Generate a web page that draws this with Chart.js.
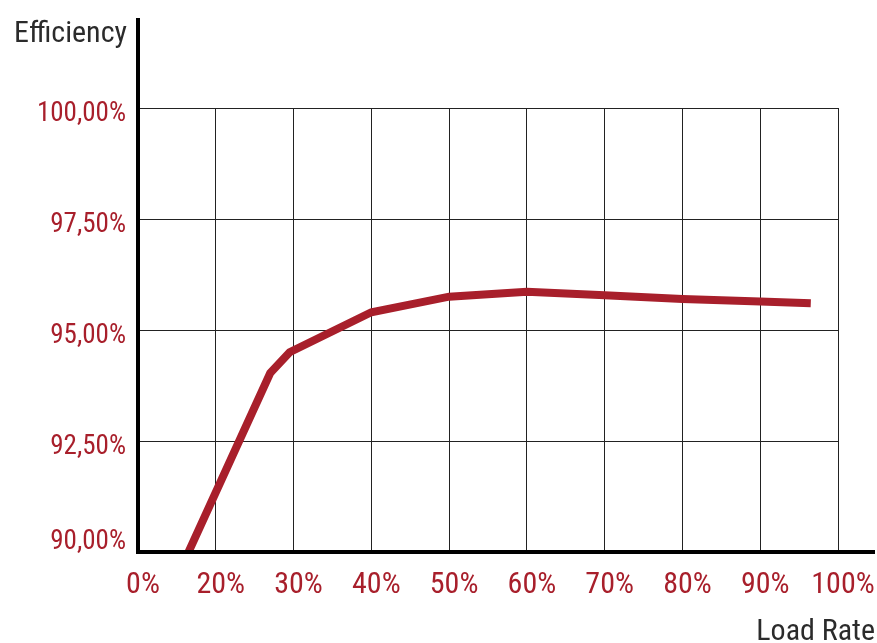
<!DOCTYPE html>
<html>
<head>
<meta charset="utf-8">
<script src="https://cdn.jsdelivr.net/npm/chart.js@4"></script>
<style>
    body { margin: 0; background: #fff; }
    #wrap { width: 877px; height: 643px; position: relative; }
</style>
</head>
<body>
<div id="wrap"><canvas id="effchart"></canvas></div>
<script>
// data
const loadRate = [16.5, 27, 29.5, 40, 50, 60, 70, 80, 90, 96.5];
const efficiency = [90.0, 94.03, 94.5, 95.4, 95.75, 95.86, 95.78, 95.7, 95.64, 95.6];

// tick labels as printed on the original
const xTickValues = [10, 20, 30, 40, 50, 60, 70, 80, 90, 100];
const xTickLabels = ['0%', '20%', '30%', '40%', '50%', '60%', '70%', '80%', '90%', '100%'];
const yTickValues = [90, 92.5, 95, 97.5, 100];
const yTickLabels = ['90,00%', '92,50%', '95,00%', '97,50%', '100,00%'];

const red = '#a81f2b';
const font = '"Roboto Condensed", "Liberation Sans Narrow", Roboto, sans-serif';

// black axis lines that run past the grid + the two axis titles
const axisPlugin = {
    id: 'axisLines',
    afterDatasetsDraw(chart) {
        const ctx = chart.ctx;
        const area = chart.chartArea;
        ctx.save();
        ctx.strokeStyle = '#000';
        ctx.lineWidth = 4;
        ctx.beginPath();
        ctx.moveTo(area.left, 18);
        ctx.lineTo(area.left, area.bottom + 2);
        ctx.moveTo(area.left - 2, area.bottom);
        ctx.lineTo(875, area.bottom);
        ctx.stroke();

        ctx.fillStyle = '#2b2b2b';
        ctx.font = '30px ' + font;
        ctx.textAlign = 'right';
        ctx.textBaseline = 'alphabetic';
        ctx.fillText('Efficiency', 127, 42);
        ctx.fillText('Load Rate', 875, 640);
        ctx.restore();
    }
};

const data = {
    datasets: [{
        label: 'Efficiency',
        data: loadRate.map((x, i) => ({ x: x, y: efficiency[i] })),
        borderColor: red,
        backgroundColor: red,
        borderWidth: 8,
        borderCapStyle: 'butt',
        pointRadius: 0,
        tension: 0
    }]
};

const config = {
    type: 'line',
    data: data,
    options: {
        responsive: true,
        maintainAspectRatio: false,
        animation: false,
        layout: { padding: { top: 108, right: 39, left: 0, bottom: 0 } },
        plugins: {
            legend: { display: false },
            tooltip: { enabled: false }
        },
        scales: {
            x: {
                type: 'linear',
                min: 10,
                max: 100,
                afterBuildTicks: (s) => { s.ticks = xTickValues.map(v => ({ value: v })); },
                afterFit: (s) => { s.height = 91; s.paddingLeft = 0; s.paddingRight = 0; },
                border: { display: false },
                grid: { color: '#222', lineWidth: 1, drawTicks: false },
                ticks: {
                    color: red,
                    font: { family: font, size: 30 },
                    padding: 15,
                    labelOffset: 5,
                    maxRotation: 0,
                    autoSkip: false,
                    callback: (v) => xTickLabels[xTickValues.indexOf(v)]
                }
            },
            y: {
                min: 90,
                max: 100,
                afterBuildTicks: (s) => { s.ticks = yTickValues.map(v => ({ value: v })); },
                afterFit: (s) => { s.width = 138; s.paddingTop = 0; s.paddingBottom = 0; },
                border: { display: false },
                grid: { color: '#222', lineWidth: 1, drawTicks: false },
                ticks: {
                    color: red,
                    font: { family: font, size: 27 },
                    padding: 12,
                    labelOffset: 6,
                    autoSkip: false,
                    // bottom label sits above the axis, so give it an empty second line
                    callback: (v) => v === 90 ? [yTickLabels[0], ''] : yTickLabels[yTickValues.indexOf(v)]
                }
            }
        }
    },
    plugins: [axisPlugin]
};

const myChart = new Chart(document.getElementById('effchart'), config);
</script>
</body>
</html>
